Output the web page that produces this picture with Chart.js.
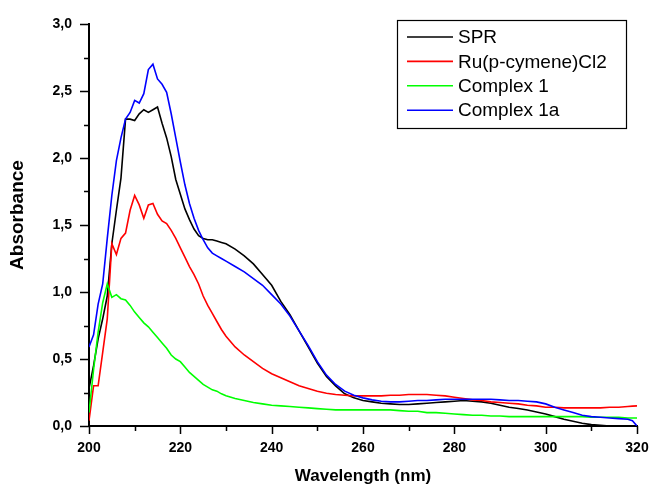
<!DOCTYPE html>
<html>
<head>
<meta charset="utf-8">
<script src="https://cdn.jsdelivr.net/npm/chart.js@4.4.0/dist/chart.umd.min.js"></script>
<style>
  html, body { margin: 0; padding: 0; background: #fff; }
  #wrap { width: 652px; height: 487px; position: relative; }
</style>
</head>
<body>
<div id="wrap"><canvas id="chart"></canvas></div>
<script>
// wavelength (nm) - 1 nm steps over the peak, 2 nm after
const wavelengths = [
    200, 201, 202, 203, 204, 205, 206, 207, 208, 209, 210, 211, 212, 213, 214, 215,
    216, 217, 218, 219, 220, 221, 222, 223, 224, 225, 226, 227, 228, 229, 230,
    232, 234, 236, 238, 240, 242, 244, 246, 248, 250, 252, 254, 256, 258, 260,
    262, 264, 266, 268, 270, 272, 274, 276, 278, 280, 282, 284, 286, 288, 290,
    292, 294, 296, 298, 300, 302, 304, 306, 308, 310, 312, 314, 316, 318, 319, 320
];

const seriesNames = ['SPR', 'Ru(p-cymene)Cl2', 'Complex 1', 'Complex 1a'];
const seriesColors = ['#000000', '#ff0000', '#00ff00', '#0000ff'];

const spr = [
    0.28, 0.45, 0.65, 0.80, 0.97, 1.36, 1.61, 1.85, 2.29, 2.29, 2.28, 2.33, 2.36, 2.34, 2.36, 2.38,
    2.26, 2.15, 2.01, 1.84, 1.73, 1.62, 1.54, 1.47, 1.42, 1.40, 1.39, 1.39, 1.38, 1.37, 1.36,
    1.32, 1.27, 1.21, 1.13, 1.05, 0.93, 0.83, 0.71, 0.59, 0.47, 0.37, 0.30, 0.24, 0.21, 0.19,
    0.18, 0.17, 0.165, 0.16, 0.16, 0.165, 0.17, 0.175, 0.18, 0.185, 0.19, 0.185, 0.18, 0.17, 0.155,
    0.14, 0.13, 0.12, 0.105, 0.09, 0.07, 0.05, 0.035, 0.02, 0.01, 0.005, 0, 0, 0, 0, 0
];

const ruCymene = [
    0.04, 0.30, 0.30, 0.55, 0.80, 1.36, 1.28, 1.40, 1.44, 1.61, 1.72, 1.65, 1.55, 1.65, 1.66, 1.58,
    1.53, 1.51, 1.46, 1.40, 1.33, 1.26, 1.19, 1.13, 1.06, 0.97, 0.90, 0.84, 0.78, 0.72, 0.67,
    0.59, 0.53, 0.48, 0.43, 0.39, 0.36, 0.33, 0.30, 0.28, 0.26, 0.245, 0.235, 0.23, 0.225, 0.225,
    0.225, 0.225, 0.23, 0.23, 0.235, 0.235, 0.235, 0.23, 0.225, 0.215, 0.205, 0.195, 0.19, 0.18, 0.175,
    0.17, 0.165, 0.155, 0.15, 0.14, 0.14, 0.135, 0.135, 0.135, 0.135, 0.135, 0.14, 0.14, 0.145, 0.148, 0.15
];

const complex1 = [
    0.10, 0.42, 0.70, 0.92, 1.06, 0.96, 0.98, 0.95, 0.94, 0.90, 0.85, 0.81, 0.77, 0.74, 0.70, 0.66,
    0.62, 0.58, 0.53, 0.50, 0.48, 0.44, 0.40, 0.37, 0.34, 0.31, 0.29, 0.27, 0.26, 0.24, 0.225,
    0.205, 0.19, 0.175, 0.165, 0.155, 0.15, 0.145, 0.14, 0.135, 0.13, 0.125, 0.12, 0.12, 0.12, 0.12,
    0.12, 0.12, 0.12, 0.115, 0.11, 0.11, 0.10, 0.10, 0.095, 0.09, 0.085, 0.08, 0.08, 0.075, 0.075,
    0.07, 0.07, 0.07, 0.07, 0.07, 0.07, 0.07, 0.07, 0.07, 0.065, 0.065, 0.065, 0.065, 0.06, 0.06, 0.06
];

const complex1a = [
    0.59, 0.68, 0.91, 1.06, 1.40, 1.72, 1.98, 2.15, 2.29, 2.34, 2.43, 2.41, 2.48, 2.66, 2.70, 2.59,
    2.55, 2.49, 2.33, 2.15, 1.97, 1.80, 1.66, 1.55, 1.46, 1.39, 1.33, 1.29, 1.27, 1.25, 1.23,
    1.19, 1.15, 1.10, 1.05, 0.98, 0.91, 0.82, 0.71, 0.60, 0.48, 0.38, 0.31, 0.26, 0.23, 0.21,
    0.195, 0.185, 0.18, 0.18, 0.185, 0.19, 0.19, 0.195, 0.20, 0.20, 0.20, 0.20, 0.20, 0.20, 0.195,
    0.19, 0.19, 0.185, 0.18, 0.165, 0.14, 0.12, 0.10, 0.08, 0.07, 0.065, 0.06, 0.055, 0.05, 0.04, 0
];

const seriesValues = [spr, ruCymene, complex1, complex1a];

// axis range and ticks
const X_MIN = 200, X_MAX = 320, X_MAJOR = 20, X_MINOR = 10;
const Y_MIN = 0, Y_MAX = 3, Y_MAJOR = 0.5, Y_MINOR = 0.25;
const Y_TITLE = 'Absorbance';

const BOLD = 'bold';
const FONT = "'Liberation Sans', Arial, sans-serif";

// outward major / minor tick marks
const tickMarks = {
    id: 'tickMarks',
    afterDraw(chart) {
        const ctx = chart.ctx;
        const xs = chart.scales.x, ys = chart.scales.y;
        const area = chart.chartArea;
        ctx.save();
        ctx.strokeStyle = '#000';
        ctx.lineWidth = 1.5;
        ctx.beginPath();
        for (let v = X_MIN; v <= X_MAX + 1e-9; v += X_MINOR) {
            const px = Math.round(xs.getPixelForValue(v)) + 0.5;
            const len = (v - X_MIN) % X_MAJOR === 0 ? 8 : 5;
            ctx.moveTo(px, area.bottom);
            ctx.lineTo(px, area.bottom + len);
        }
        for (let v = Y_MIN; v <= Y_MAX + 1e-9; v += Y_MINOR) {
            const py = Math.round(ys.getPixelForValue(v)) + 0.5;
            const len = Math.abs((v / Y_MAJOR) - Math.round(v / Y_MAJOR)) < 1e-6 ? 9 : 5;
            ctx.moveTo(area.left, py);
            ctx.lineTo(area.left - len, py);
        }
        ctx.stroke();

        // y axis title, sits a little above the middle of the plot
        ctx.font = 'bold 19px ' + FONT;
        ctx.fillStyle = '#000';
        ctx.textAlign = 'center';
        ctx.textBaseline = 'middle';
        ctx.translate(18, (area.top + area.bottom) / 2 - 10);
        ctx.rotate(-Math.PI / 2);
        ctx.fillText(Y_TITLE, 0, 0);
        ctx.restore();
    }
};

// boxed legend in the top right corner
const boxLegend = {
    id: 'boxLegend',
    afterDraw(chart) {
        const ctx = chart.ctx;
        const box = { left: 397, top: 20, right: 626, bottom: 128 };
        ctx.save();
        ctx.strokeStyle = '#000';
        ctx.lineWidth = 1.2;
        ctx.strokeRect(box.left + 0.5, box.top + 0.5, box.right - box.left, box.bottom - box.top);
        ctx.font = "19px " + FONT;
        ctx.textBaseline = 'middle';
        ctx.fillStyle = '#000';
        seriesNames.forEach((name, i) => {
            const y = 37 + i * 24.4;
            ctx.strokeStyle = seriesColors[i];
            ctx.lineWidth = 1.6;
            ctx.beginPath();
            ctx.moveTo(407, y);
            ctx.lineTo(453, y);
            ctx.stroke();
            ctx.fillText(name, 458, y + 1);
        });
        ctx.restore();
    }
};

const datasets = seriesNames.map((name, i) => ({
    label: name,
    data: wavelengths.map((w, j) => ({ x: w, y: seriesValues[i][j] })),
    borderColor: seriesColors[i],
    borderWidth: 1.6,
    pointRadius: 0,
    tension: 0,
    fill: false,
    order: seriesNames.length - 1 - i
}));

new Chart(document.getElementById('chart'), {
    type: 'line',
    data: { datasets },
    options: {
        responsive: true,
        maintainAspectRatio: false,
        animation: false,
        layout: { padding: { left: 7, top: 24, right: 15, bottom: 0 } },
        plugins: {
            legend: { display: false },
            tooltip: { enabled: false }
        },
        scales: {
            x: {
                type: 'linear',
                min: X_MIN,
                max: X_MAX,
                afterFit: (scale) => {
                    scale.height = 61;
                    scale.paddingLeft = 0;
                    scale.paddingRight = 0;
                },
                grid: { display: true, drawOnChartArea: false, tickLength: 8, tickColor: 'rgba(0,0,0,0)' },
                border: { display: true, color: '#000', width: 2 },
                ticks: {
                    stepSize: X_MAJOR,
                    color: '#000',
                    padding: 6,
                    maxRotation: 0,
                    autoSkip: false,
                    font: { family: FONT, size: 14, weight: BOLD },
                    callback: (v) => String(v)
                },
                title: {
                    display: true,
                    text: 'Wavelength (nm)',
                    color: '#000',
                    padding: { top: 0, bottom: 0 },
                    font: { family: FONT, size: 17, weight: BOLD }
                }
            },
            y: {
                min: Y_MIN,
                max: Y_MAX,
                afterFit: (scale) => {
                    scale.width = 82;
                    scale.paddingTop = 0;
                    scale.paddingBottom = 0;
                },
                grid: { display: true, drawOnChartArea: false, tickLength: 9, tickColor: 'rgba(0,0,0,0)' },
                border: { display: true, color: '#000', width: 2 },
                ticks: {
                    stepSize: Y_MAJOR,
                    color: '#000',
                    padding: 8,
                    font: { family: FONT, size: 14, weight: BOLD },
                    callback: (v) => v.toFixed(1).replace('.', ',')
                }
            }
        }
    },
    plugins: [tickMarks, boxLegend]
});
</script>
</body>
</html>
